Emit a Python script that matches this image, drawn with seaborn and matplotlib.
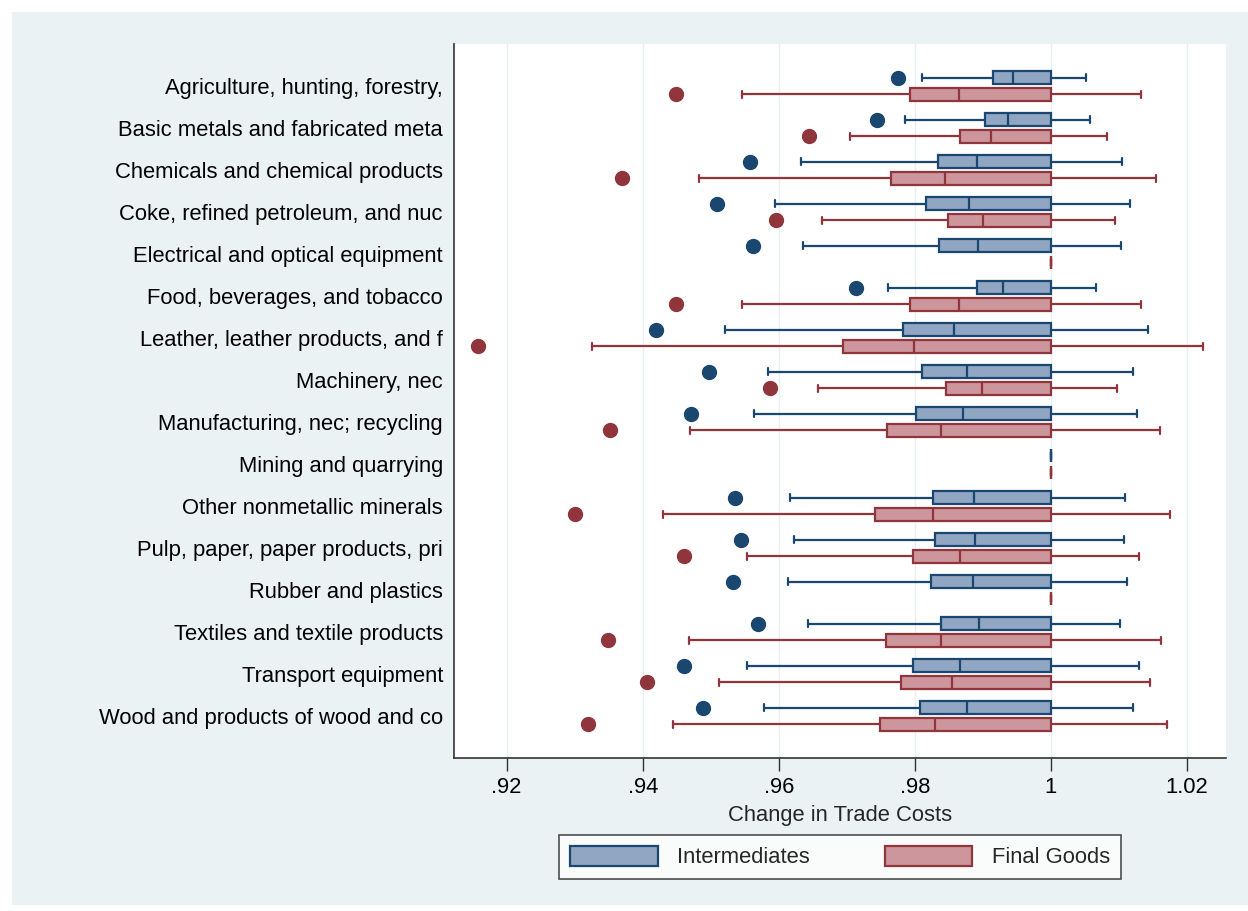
import numpy as np
import pandas as pd
import matplotlib
matplotlib.use("Agg")
import matplotlib.pyplot as plt
from matplotlib.patches import Patch, Rectangle
import seaborn as sns

# industries, top to bottom
industries = [
    "Agriculture, hunting, forestry,",
    "Basic metals and fabricated meta",
    "Chemicals and chemical products",
    "Coke, refined petroleum, and nuc",
    "Electrical and optical equipment",
    "Food, beverages, and tobacco",
    "Leather, leather products, and f",
    "Machinery, nec",
    "Manufacturing, nec; recycling",
    "Mining and quarrying",
    "Other nonmetallic minerals",
    "Pulp, paper, paper products, pri",
    "Rubber and plastics",
    "Textiles and textile products",
    "Transport equipment",
    "Wood and products of wood and co",
]
series_names = ["Intermediates", "Final Goods"]

nan = np.nan
# Intermediates: outlier, lower whisker, q1, median, q3, upper whisker
int_out = [0.9775, 0.9745, 0.9557, 0.9509, 0.9562, 0.9714, 0.9419, 0.9497,
           0.9471, nan, 0.9536, 0.9545, 0.9532, 0.9569, 0.9460, 0.9489]
int_lo = [0.9811, 0.9786, 0.9633, 0.9594, 0.9636, 0.9761, 0.9521, 0.9584,
          0.9563, 1.0, 0.9616, 0.9623, 0.9613, 0.9643, 0.9554, 0.9578]
int_q1 = [0.9915, 0.9903, 0.9834, 0.9816, 0.9835, 0.9892, 0.9783, 0.9811,
          0.9802, 1.0, 0.9826, 0.9829, 0.9824, 0.9838, 0.9797, 0.9808]
int_med = [0.9944, 0.9937, 0.9891, 0.9879, 0.9893, 0.9930, 0.9857, 0.9876,
           0.9870, 1.0, 0.9887, 0.9888, 0.9886, 0.9894, 0.9867, 0.9876]
int_q3 = [1.0, 1.0, 1.0, 1.0, 1.0, 1.0, 1.0, 1.0,
          1.0, 1.0, 1.0, 1.0, 1.0, 1.0, 1.0, 1.0]
int_hi = [1.0051, 1.0058, 1.0104, 1.0116, 1.0103, 1.0066, 1.0142, 1.0120,
          1.0127, 1.0, 1.0109, 1.0108, 1.0112, 1.0101, 1.0130, 1.0121]

# Final goods
fin_out = [0.9449, 0.9644, 0.9369, 0.9596, nan, 0.9449, 0.9158, 0.9587,
           0.9352, nan, 0.9300, 0.9460, nan, 0.9349, 0.9407, 0.9319]
fin_lo = [0.9546, 0.9704, 0.9483, 0.9664, 1.0, 0.9546, 0.9326, 0.9657,
          0.9470, 1.0, 0.9430, 0.9554, 1.0, 0.9468, 0.9512, 0.9444]
fin_q1 = [0.9793, 0.9866, 0.9765, 0.9848, 1.0, 0.9793, 0.9695, 0.9845,
          0.9759, 1.0, 0.9742, 0.9797, 1.0, 0.9758, 0.9779, 0.9748]
fin_med = [0.9865, 0.9912, 0.9844, 0.9900, 1.0, 0.9865, 0.9799, 0.9899,
           0.9839, 1.0, 0.9827, 0.9867, 1.0, 0.9838, 0.9855, 0.9830]
fin_q3 = [1.0, 1.0, 1.0, 1.0, 1.0, 1.0, 1.0, 1.0,
          1.0, 1.0, 1.0, 1.0, 1.0, 1.0, 1.0, 1.0]
fin_hi = [1.0133, 1.0082, 1.0155, 1.0094, 1.0, 1.0133, 1.0223, 1.0097,
          1.0160, 1.0, 1.0175, 1.0130, 1.0, 1.0161, 1.0145, 1.0170]

x_ticks = [0.92, 0.94, 0.96, 0.98, 1.0, 1.02]
x_ticklabels = [".92", ".94", ".96", ".98", "1", "1.02"]

navy = "#1a476f"
maroon = "#90353b"
navy_fill = "#90a6c2"
maroon_fill = "#cc969c"
bg = "#eaf2f3"
fs = 15.8


# rebuild a small sample per box so seaborn's quartiles land on the read values
def build_rows(series, out, lo, q1, med, q3, hi):
    rows = []
    for i, ind in enumerate(industries):
        first = lo[i] if np.isnan(out[i]) else out[i]
        vals = [first, lo[i], q1[i], med[i], med[i], med[i], q3[i], q3[i], hi[i]]
        for v in vals:
            rows.append({"industry": ind, "series": series, "value": v})
    return rows


df = pd.DataFrame(
    build_rows("Intermediates", int_out, int_lo, int_q1, int_med, int_q3, int_hi)
    + build_rows("Final Goods", fin_out, fin_lo, fin_q1, fin_med, fin_q3, fin_hi)
)

sns.set_theme(style="white")
plt.rcParams["font.family"] = ["Liberation Sans", "DejaVu Sans"]

fig = plt.figure(figsize=(12.48, 9.11), dpi=100, facecolor="white")
fig.patches.append(Rectangle((12 / 1248, 6 / 911), 1 - 12 / 1248, 1 - 18 / 911,
                             transform=fig.transFigure, facecolor=bg,
                             edgecolor="none", zorder=-10))
ax = fig.add_axes([454 / 1248, 1 - 758 / 911, (1226 - 454) / 1248, (758 - 44) / 911])
ax.set_facecolor("white")

styles = {
    "Intermediates": (navy, navy_fill),
    "Final Goods": (maroon, maroon_fill),
}
for name in series_names:
    edge, fill = styles[name]
    sns.boxplot(
        data=df[df["series"] == name], x="value", y="industry",
        hue="series", hue_order=series_names, order=industries,
        palette={series_names[0]: navy_fill, series_names[1]: maroon_fill},
        linecolor=edge, linewidth=1.6, width=0.8, gap=0.25, dodge=True,
        saturation=1, whis=1.5, legend=False, ax=ax,
        flierprops=dict(marker="o", markerfacecolor=edge, markeredgecolor=edge,
                        markersize=10),
    )

ax.set_xlim(0.91227, 1.02572)
ax.set_ylim(16.0, -1.0)
ax.set_xticks(x_ticks)
ax.set_xticklabels(x_ticklabels)
ax.grid(axis="x", color="#e8eff1", linewidth=1)
ax.grid(axis="y", visible=False)
ax.set_axisbelow(True)

ax.set_xlabel("Change in Trade Costs", fontsize=fs, labelpad=5)
ax.set_ylabel("")
ax.tick_params(axis="y", length=0, pad=8, labelsize=fs, labelcolor="black")
ax.tick_params(axis="x", length=9, width=1, pad=5, labelsize=fs,
               labelcolor="black", color="#333333", direction="out", bottom=True)

for side in ["top", "right"]:
    ax.spines[side].set_visible(False)
for side in ["left", "bottom"]:
    ax.spines[side].set_color("#333333")
    ax.spines[side].set_linewidth(1.2)

handles = [
    Patch(facecolor=navy_fill, edgecolor=navy, linewidth=1.6, label="Intermediates"),
    Patch(facecolor=maroon_fill, edgecolor=maroon, linewidth=1.6, label="Final Goods"),
]
leg = fig.legend(handles=handles, loc="center", bbox_to_anchor=(840 / 1248, 1 - 857 / 911),
                 ncol=2, frameon=True, fancybox=False, fontsize=fs,
                 handlelength=4.0, handleheight=1.05, handletextpad=0.9,
                 columnspacing=3.4, borderpad=0.5, edgecolor="#222222")
leg.get_frame().set_linewidth(1.2)
leg.get_frame().set_facecolor("white")

fig.savefig("out.png", dpi=100, facecolor=fig.get_facecolor())
